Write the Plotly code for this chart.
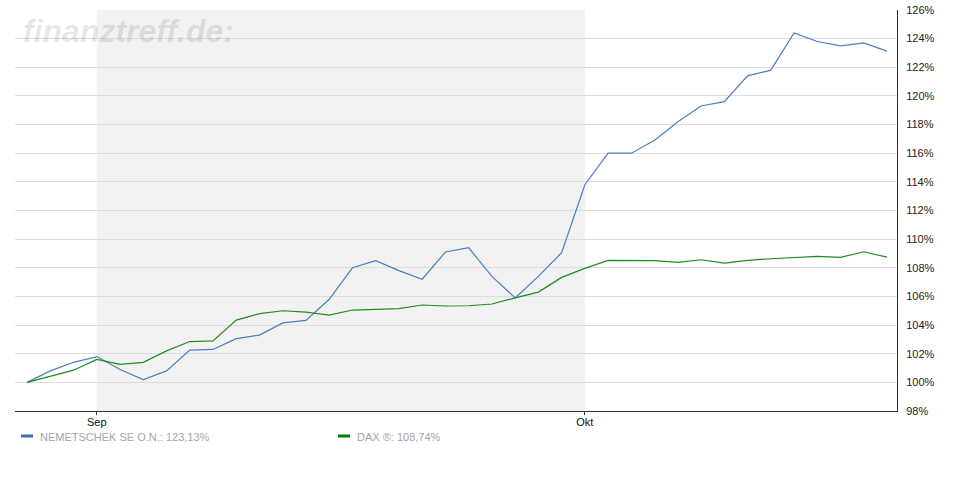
import plotly.graph_objects as go

# ---- data (percent of start value, one point per trading day) ----
idx = list(range(38))
nemetschek = [100.0, 100.8, 101.4, 101.8, 100.9, 100.2, 100.8, 102.25, 102.3, 103.05,
              103.3, 104.15, 104.33, 105.8, 108.0, 108.5, 107.8, 107.2, 109.1, 109.4,
              107.4, 105.9, 107.4, 109.05, 113.8, 116.0, 116.0, 116.9, 118.2, 119.3,
              119.6, 121.4, 121.8, 124.4, 123.8, 123.5, 123.7, 123.13]
dax = [100.0, 100.43, 100.85, 101.6, 101.25, 101.4, 102.2, 102.85, 102.9, 104.35,
       104.8, 105.0, 104.9, 104.7, 105.05, 105.1, 105.15, 105.4, 105.33, 105.35,
       105.47, 105.9, 106.3, 107.33, 107.96, 108.52, 108.52, 108.5, 108.38, 108.56,
       108.33, 108.52, 108.63, 108.7, 108.8, 108.73, 109.12, 108.74]
month_tick_idx = [3, 24]
month_tick_text = ["Sep", "Okt"]
shade_start, shade_end = 3, 24
names = ["NEMETSCHEK SE O.N.", "DAX ®"]
colors = ["#4a7fc1", "#1e8c1e"]
legend_colors = ["#3a6fb8", "#008000"]
y_ticks = list(range(98, 127, 2))

def fmt(v):
    return f"{v:.2f}%".replace(".", ",")

fig = go.Figure()
for name, ys, c in zip(names, [nemetschek, dax], colors):
    fig.add_trace(go.Scatter(x=idx, y=ys, mode="lines", name=name,
                             line=dict(color=c, width=1.2), showlegend=False,
                             hoverinfo="skip"))

fig.add_shape(type="rect", xref="x", yref="paper", x0=shade_start, x1=shade_end,
              y0=0, y1=1, fillcolor="#f2f2f2", line_width=0, layer="below")

# watermark
fig.add_annotation(xref="paper", yref="paper", x=(21 - 15) / 882, y=(411 - 31) / 401,
                   xanchor="left", yanchor="middle", showarrow=False,
                   text="<b><i>finanztreff.de:</i></b>",
                   font=dict(family="Liberation Sans, Arial", size=32,
                             color="rgba(0,0,0,0.1)"))

# custom legend below chart
leg_x = [21, 338]
for lx, name, ys, c in zip(leg_x, names, [nemetschek, dax], legend_colors):
    fig.add_shape(type="rect", xref="paper", yref="paper",
                  x0=(lx - 15) / 882, x1=(lx + 12 - 15) / 882,
                  y0=(411 - 437.5) / 401, y1=(411 - 434.5) / 401,
                  fillcolor=c, line_width=0)
    fig.add_annotation(xref="paper", yref="paper", x=(lx + 17 - 15) / 882,
                       y=(411 - 437) / 401, xanchor="left", yanchor="middle",
                       showarrow=False, text=f"{name}: {fmt(ys[-1])}",
                       font=dict(family="Liberation Sans, Arial", size=11,
                                 color="#a5a5a8"))

fig.update_layout(
    width=970, height=500,
    margin=dict(l=15, r=73, t=10, b=89),
    paper_bgcolor="white", plot_bgcolor="white",
    font=dict(family="Liberation Sans, Arial", size=11, color="#222"),
    xaxis=dict(range=[-0.52, 37.43], tickmode="array", tickvals=month_tick_idx,
               ticktext=month_tick_text, showgrid=False, zeroline=False,
               showline=True, linecolor="#333", linewidth=1, automargin=False,
               ticks="outside", ticklen=3, tickcolor="#333", ticklabelstandoff=-2,
               tickfont=dict(size=11, color="#111")),
    yaxis=dict(range=[98, 126], side="right", tickmode="array", tickvals=y_ticks,
               ticktext=[f"{v}%" for v in y_ticks], showgrid=True, automargin=False,
               gridcolor="#dddddd", gridwidth=1, zeroline=False, showline=True,
               linecolor="#333", linewidth=1, ticks="", ticklabelstandoff=6,
               tickfont=dict(size=11, color="#222")),
)

fig.write_html("out.html", config={"displayModeBar": False},
               post_script="document.body.style.margin='0';")
